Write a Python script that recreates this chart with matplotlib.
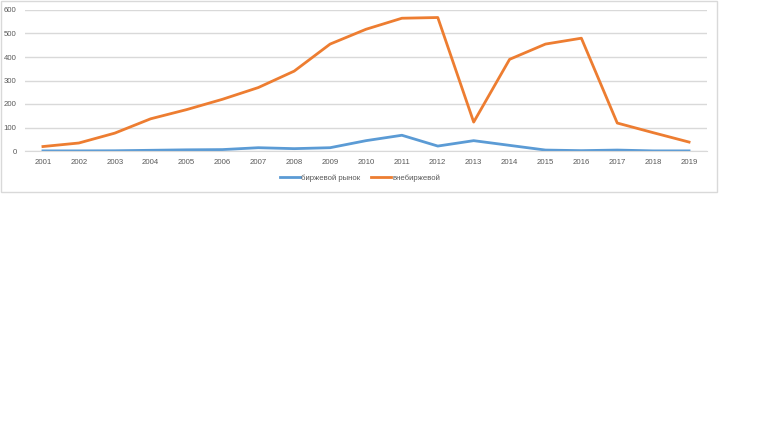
import matplotlib.pyplot as plt
from matplotlib.lines import Line2D
from matplotlib.patches import Rectangle

years = [str(y) for y in range(2001, 2020)]
birzh = [0.5, 0.5, 1, 3, 5, 6, 14, 10, 14, 44, 67, 21, 44, 24, 4, 1.5, 4, 0.5, 0.5]
vnebirzh = [19, 34, 76, 137, 176, 220, 270, 340, 455, 518, 565, 568, 123, 390, 455, 480, 119, 78, 38]
series_names = ["биржевой рынок", "внебиржевой"]

W, H = 764, 430
fig = plt.figure(figsize=(W / 100, H / 100), dpi=100)
plt.rcParams["font.family"] = ["Liberation Sans", "DejaVu Sans"]

# chart frame
fig.patches.append(Rectangle((0.5 / W, 1 - 191.5 / H), 716 / W, 191 / H,
                             transform=fig.transFigure, fill=False,
                             edgecolor="#D9D9D9", linewidth=1))

# plot area in pixels: x 25..707, y 10..151
ax = fig.add_axes([25 / W, 1 - 151 / H, (707 - 25) / W, (151 - 10) / H])
x = range(len(years))
blue = "#5B9BD5"
orange = "#ED7D31"
ax.plot(x, birzh, color=blue, linewidth=2, solid_joinstyle="round")
ax.plot(x, vnebirzh, color=orange, linewidth=2, solid_joinstyle="round")

ax.set_xlim(-0.5, len(years) - 0.5)
ax.set_ylim(0, 600)
ax.set_yticks(range(0, 601, 100))
ax.set_xticks(list(x))
ax.set_xticklabels(years)
ax.grid(axis="y", color="#D9D9D9", linewidth=1)
ax.set_axisbelow(True)
for s in ["top", "right", "left"]:
    ax.spines[s].set_visible(False)
ax.spines["bottom"].set_color("#D9D9D9")
ax.tick_params(length=0, labelsize=5.6, labelcolor="#595959")
ax.tick_params(axis="x", pad=6)
ax.tick_params(axis="y", pad=6)

handles = [Line2D([], [], color=blue, linewidth=2),
           Line2D([], [], color=orange, linewidth=2)]
fig.legend(handles, series_names, loc="center", bbox_to_anchor=(360 / W, 1 - 178 / H),
           ncol=2, frameon=False, fontsize=5.6, labelcolor="#595959",
           handlelength=2.6, handletextpad=0.1, columnspacing=1.4)

fig.savefig("out.png", dpi=100, facecolor="white")
